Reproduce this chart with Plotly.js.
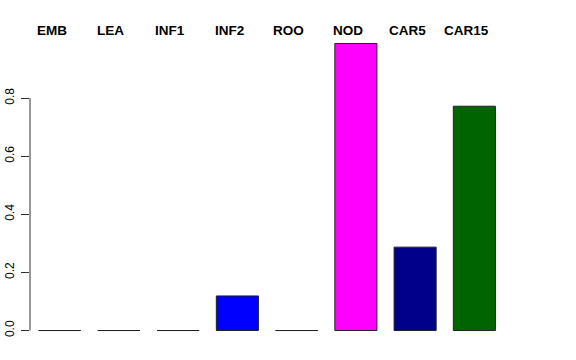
<!DOCTYPE html>
<html>
<head>
<meta charset="utf-8">
<script src="https://cdn.plot.ly/plotly-3.0.1.min.js"></script>
<style>html,body{margin:0;padding:0;background:#fff;}</style>
</head>
<body>
<div id="chart" style="width:576px;height:360px;"></div>
<script>
var categories = ["EMB", "LEA", "INF1", "INF2", "ROO", "NOD", "CAR5", "CAR15"];
var values = [0, 0, 0, 0.119, 0, 0.988, 0.287, 0.772];
var barColors = ["#BEBEBE", "#BEBEBE", "#BEBEBE", "#0000FF", "#BEBEBE", "#FF00FF", "#00008B", "#006400"];
var yTicks = [0, 0.2, 0.4, 0.6, 0.8];
var yTickLabels = ["0.0", "0.2", "0.4", "0.6", "0.8"];

var trace = {
  type: "bar",
  x: categories,
  y: values,
  marker: {color: barColors, line: {color: "#222222", width: 1}},
  hoverinfo: "skip"
};

var annotations = categories.map(function (c) {
  return {
    x: c, xref: "x", y: 1, yref: "paper",
    yanchor: "middle", yshift: 2, xshift: -8,
    text: "<b>" + c + "</b>", showarrow: false,
    font: {family: "Liberation Sans, Arial, sans-serif", size: 13.5, color: "#000"}
  };
});

var layout = {
  width: 576, height: 360,
  margin: {l: 30, r: 72, t: 32, b: 18, pad: 0},
  paper_bgcolor: "#fff", plot_bgcolor: "#fff",
  showlegend: false,
  bargap: 0.29,
  xaxis: {
    type: "category", range: [-0.5, 7.5],
    showticklabels: false, showline: false, showgrid: false, zeroline: false, ticks: ""
  },
  yaxis: {
    range: [-0.0395, 1.0275],
    tickmode: "array", tickvals: yTicks, ticktext: yTickLabels,
    ticks: "outside", ticklen: 8, tickwidth: 1, tickcolor: "#333",
    tickangle: -90, ticklabelstandoff: 2,
    tickfont: {family: "Liberation Sans, Arial, sans-serif", size: 12, color: "#000"},
    showline: false, showgrid: false, zeroline: false
  },
  shapes: [{
    type: "line", xref: "paper", yref: "y",
    x0: 0, x1: 0, y0: yTicks[0], y1: yTicks[yTicks.length - 1],
    line: {color: "#333", width: 1}
  }],
  annotations: annotations
};

Plotly.newPlot("chart", [trace], layout, {displayModeBar: false, staticPlot: true});
</script>
</body>
</html>
